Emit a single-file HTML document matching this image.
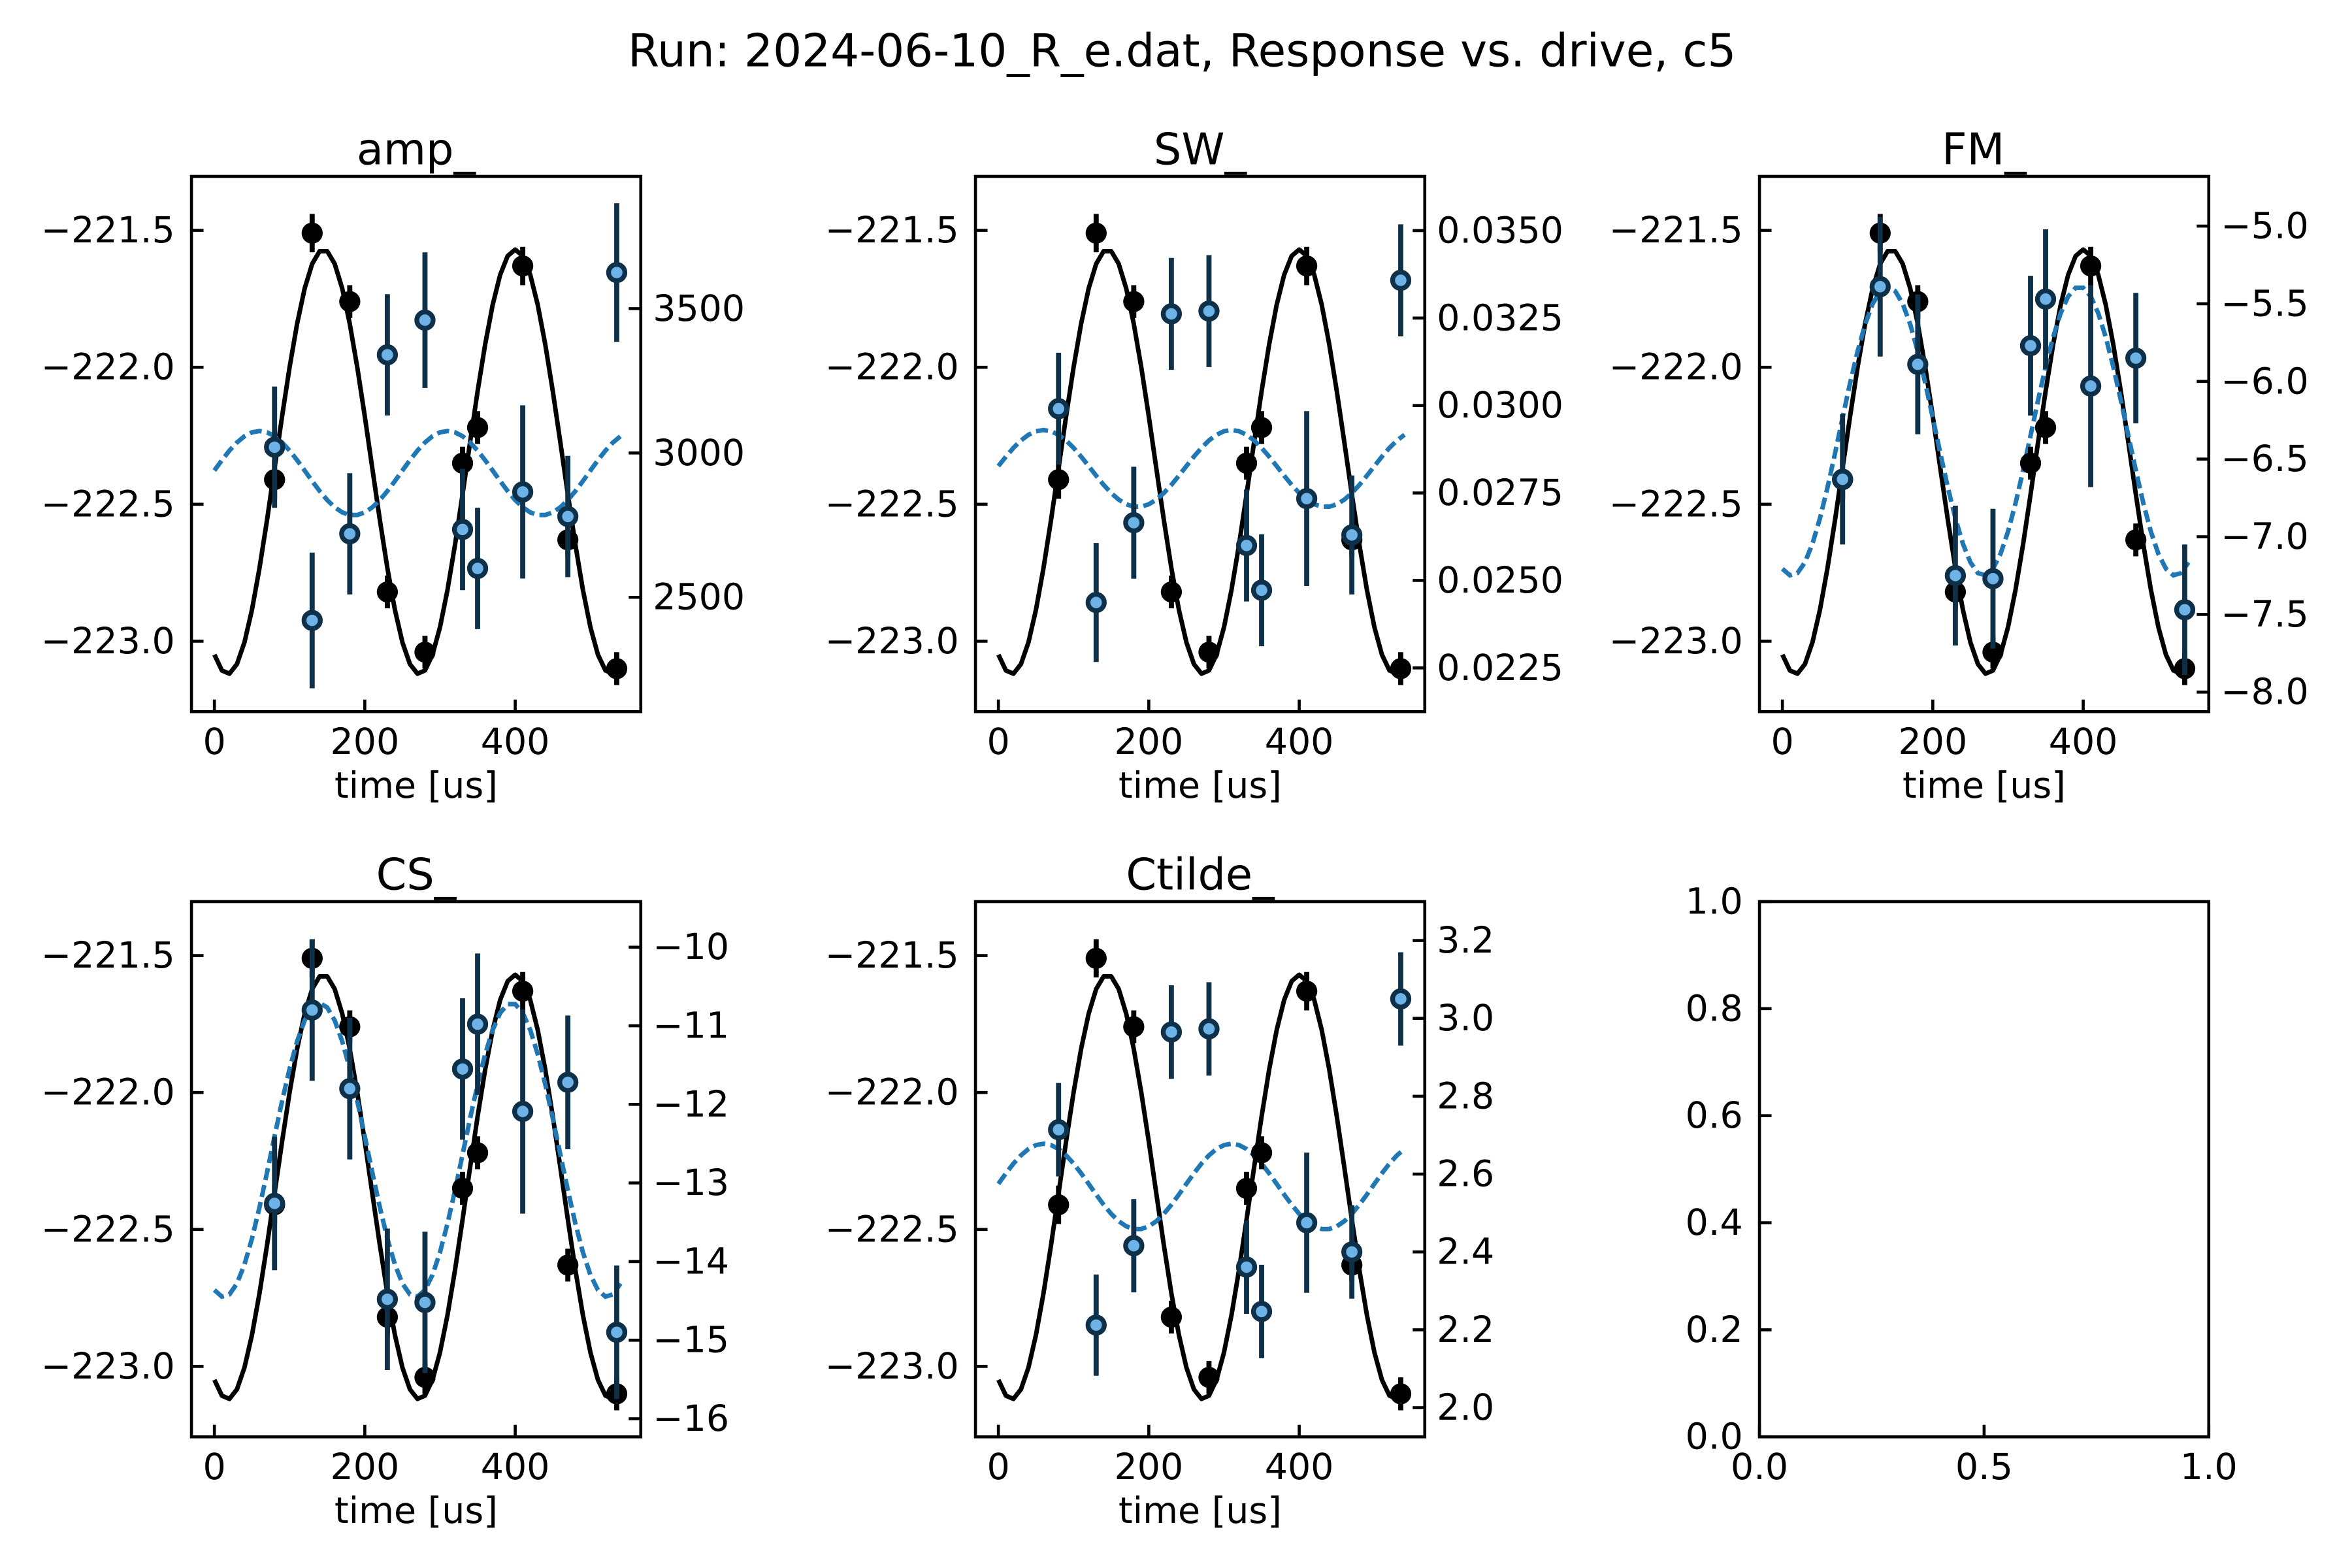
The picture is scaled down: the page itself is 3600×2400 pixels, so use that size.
<!DOCTYPE html>
<html><head><meta charset="utf-8"><style>
html,body{margin:0;padding:0;background:#fff}
svg{display:block}
text{font-family:"DejaVu Sans","Liberation Sans",sans-serif;fill:#000}
</style></head><body>
<svg id="fig" width="3600" height="2400" viewBox="0 0 1560 1040" xmlns="http://www.w3.org/2000/svg">
<rect width="1560" height="1040" fill="#fff"/>
<text x="784" y="44" font-size="30" text-anchor="middle">Run: 2024-06-10_R_e.dat, Response vs. drive, c5</text>
</svg>
<script>
// shared data
const times = [80,130,180,230,280,330,350,410,470,535];
const blackVals = [-222.41,-221.51,-221.76,-222.82,-223.04,-222.35,-222.22,-221.63,-222.63,-223.10];
const blackErr = [0.07,0.07,0.06,0.06,0.06,0.06,0.06,0.07,0.06,0.06];
// black fit parameters: offset, amplitude, period, peak time
const blackFit = [-222.345,0.775,255,145];
const leftTicks = [-221.5,-222.0,-222.5,-223.0];
const xTicks = [0,200,400];

const panelNames = ['amp_','SW_','FM_','CS_','Ctilde_'];
const ampVals = [3020,2420,2720,3340,3460,2735,2600,2865,2780,3625];
const ampErr = [210,235,210,210,235,210,210,300,210,240];
const ampFit = [2930,146,250,60];
const ampTicks = [2500,3000,3500];
const swVals = [0.02991,0.02437,0.02665,0.03262,0.0327,0.0260,0.02472,0.02734,0.0263,0.03358];
const swErr = [0.0016,0.0017,0.0016,0.0016,0.0016,0.0016,0.0016,0.0025,0.0017,0.0016];
const swFit = [0.0282,0.0011,250,60];
const swTicks = [0.0225,0.0250,0.0275,0.0300,0.0325,0.0350];
const fmVals = [-6.63,-5.39,-5.89,-7.25,-7.27,-5.77,-5.47,-6.03,-5.85,-7.47];
const fmErr = [0.42,0.45,0.45,0.45,0.45,0.45,0.45,0.65,0.42,0.42];
const fmFit = [-6.32,0.93,255,140];
const fmTicks = [-8.0,-7.5,-7.0,-6.5,-6.0,-5.5,-5.0];
const csVals = [-13.26,-10.80,-11.80,-14.48,-14.52,-11.55,-10.98,-12.09,-11.72,-14.90];
const csErr = [0.85,0.9,0.9,0.9,0.9,0.9,0.9,1.3,0.85,0.85];
const csFit = [-12.58,1.87,255,140];
const csTicks = [-16,-15,-14,-13,-12,-11,-10];
const ctVals = [2.714,2.212,2.416,2.965,2.973,2.361,2.247,2.475,2.40,3.05];
const ctErr = [0.12,0.13,0.12,0.12,0.12,0.12,0.12,0.18,0.12,0.12];
const ctFit = [2.568,0.11,250,60];
const ctTicks = [2.0,2.2,2.4,2.6,2.8,3.0,3.2];

const NS='http://www.w3.org/2000/svg';
const svg=document.getElementById('fig');
function mk(tag,attrs,parent){const e=document.createElementNS(NS,tag);for(const k in attrs)e.setAttribute(k,attrs[k]);(parent||svg).appendChild(e);return e;}

const panels=[
 {x0:127,y0:117,vals:ampVals,err:ampErr,fit:ampFit,ticks:ampTicks,rmin:2104,rmax:3958,fmt:v=>v.toFixed(0)},
 {x0:647,y0:117,vals:swVals,err:swErr,fit:swFit,ticks:swTicks,rmin:0.02125,rmax:0.03655,fmt:v=>v.toFixed(4)},
 {x0:1167,y0:117,vals:fmVals,err:fmErr,fit:fmFit,ticks:fmTicks,rmin:-8.126,rmax:-4.68,fmt:v=>'\u2212'+Math.abs(v).toFixed(1)},
 {x0:127,y0:598,vals:csVals,err:csErr,fit:csFit,ticks:csTicks,rmin:-16.23,rmax:-9.42,fmt:v=>'\u2212'+Math.abs(v).toFixed(0)},
 {x0:647,y0:598,vals:ctVals,err:ctErr,fit:ctFit,ticks:ctTicks,rmin:1.925,rmax:3.3,fmt:v=>v.toFixed(1)}
];
const W=298,H=355;
const lmin=-223.257,lmax=-221.303;
const TF=24;

panels.forEach((p,i)=>{
  const g=mk('g',{});
  
  
  const xs=t=>p.x0+15.2+t*0.4988;
  const yl=v=>p.y0+H*(lmax-v)/(lmax-lmin);
  const yr=v=>p.y0+H*(p.rmax-v)/(p.rmax-p.rmin);
  const clip='c'+i;
  const cp=mk('clipPath',{id:clip},g);mk('rect',{x:p.x0,y:p.y0,width:W,height:H},cp);
  const plot=mk('g',{'clip-path':'url(#'+clip+')'},g);
  let d='';for(let t=0;t<=540;t+=10){const v=blackFit[0]+blackFit[1]*Math.cos(2*Math.PI*(t-blackFit[3])/blackFit[2]);d+=(t?'L':'M')+xs(t).toFixed(2)+','+yl(v).toFixed(2);}
  const bl=mk('path',{d:d,fill:'none',stroke:'#000','stroke-width':3,'stroke-linejoin':'round'},plot);
  
  
  d='';for(let t=0;t<=540;t+=10){const v=p.fit[0]+p.fit[1]*Math.cos(2*Math.PI*(t-p.fit[3])/p.fit[2]);d+=(t?'L':'M')+xs(t).toFixed(2)+','+yr(v).toFixed(2);}
  const bf=mk('path',{d:d,fill:'none',stroke:'#1f77b4','stroke-width':3,'stroke-dasharray':'8,3.5'},plot);
  
  
  times.forEach((t,j)=>{
    const e=mk('line',{x1:xs(t),x2:xs(t),y1:yl(blackVals[j]-blackErr[j]),y2:yl(blackVals[j]+blackErr[j]),stroke:'#000','stroke-width':3.4},plot);
    
    
    const c=mk('circle',{cx:xs(t),cy:yl(blackVals[j]),r:7,fill:'#000'},plot);
    
    
  });
  times.forEach((t,j)=>{
    const e=mk('line',{x1:xs(t),x2:xs(t),y1:yr(p.vals[j]-p.err[j]),y2:yr(p.vals[j]+p.err[j]),stroke:'#0e3049','stroke-width':3.4},plot);
    
    
    const c=mk('circle',{cx:xs(t),cy:yr(p.vals[j]),r:5.4,fill:'#6db3e8',stroke:'#0e3049','stroke-width':3.2},plot);
    
    
  });
  mk('rect',{x:p.x0,y:p.y0,width:W,height:H,fill:'none',stroke:'#000','stroke-width':2},g);
  leftTicks.forEach(v=>{const y=yl(v);mk('line',{x1:p.x0,x2:p.x0+8,y1:y,y2:y,stroke:'#000','stroke-width':2},g);
    const tx=mk('text',{x:p.x0-11,y:y+8,'font-size':TF,'text-anchor':'end'},g);tx.textContent='\u2212'+Math.abs(v).toFixed(1);
    
    });
  p.ticks.forEach(v=>{const y=yr(v);mk('line',{x1:p.x0+W-8,x2:p.x0+W,y1:y,y2:y,stroke:'#000','stroke-width':2},g);
    const tx=mk('text',{x:p.x0+W+8,y:y+8,'font-size':TF,'text-anchor':'start'},g);tx.textContent=p.fmt(v);
    
    });
  xTicks.forEach(v=>{const x=xs(v);mk('line',{x1:x,x2:x,y1:p.y0+H-8,y2:p.y0+H,stroke:'#000','stroke-width':2},g);
    const tx=mk('text',{x:x,y:p.y0+H+28,'font-size':TF,'text-anchor':'middle'},g);tx.textContent=v;
    
    });
  const xl=mk('text',{x:p.x0+W/2,y:p.y0+H+57,'font-size':24,'text-anchor':'middle'},g);xl.textContent='time [us]';
  
  
  const tt=mk('text',{x:p.x0+W/2,y:p.y0-8,'font-size':29,'text-anchor':'middle'},g);tt.textContent=panelNames[i];
  
  
});

const emptyTicks=[0.0,0.2,0.4,0.6,0.8,1.0];
const emptyXTicks=[0.0,0.5,1.0];
(function(){
  const x0=1167,y0=598;
  const g=mk('g',{});
  
  
  mk('rect',{x:x0,y:y0,width:W,height:H,fill:'none',stroke:'#000','stroke-width':2},g);
  emptyTicks.forEach(v=>{const y=y0+H*(1-v);mk('line',{x1:x0,x2:x0+8,y1:y,y2:y,stroke:'#000','stroke-width':2},g);
    const tx=mk('text',{x:x0-11,y:y+8,'font-size':TF,'text-anchor':'end'},g);tx.textContent=v.toFixed(1);
    
    });
  emptyXTicks.forEach(v=>{const x=x0+W*v;mk('line',{x1:x,x2:x,y1:y0+H-8,y2:y0+H,stroke:'#000','stroke-width':2},g);
    const tx=mk('text',{x:x,y:y0+H+28,'font-size':TF,'text-anchor':'middle'},g);tx.textContent=v.toFixed(1);
    
    });
})();
</script>
</body></html>
